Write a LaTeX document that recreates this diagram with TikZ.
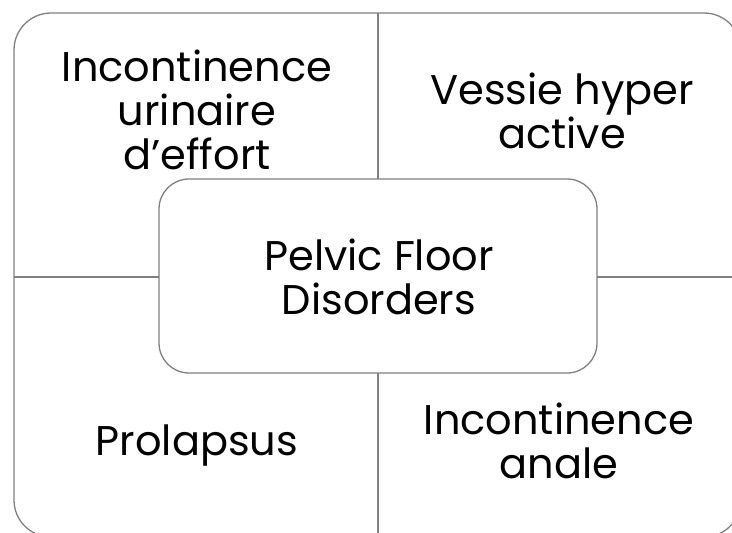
\documentclass[tikz,border=0pt]{standalone}
\usepackage{fontspec}
\setmainfont{Poppins}
\definecolor{edge}{RGB}{128,128,128}
\tikzset{
  frame/.style={draw=edge, line width=1.3pt},
  label/.style={align=center, anchor=base, inner sep=0pt, font=\fontsize{41.5}{44}\selectfont}
}
\begin{document}
\begin{tikzpicture}[x=1pt,y=-1pt]
\useasboundingbox (0,0) rectangle (732,533);
\clip (0,0) rectangle (732,533);
\draw[frame, rounded corners=37pt] (14,13) rectangle (741,537);
\coordinate (vt) at (378,13);
\coordinate (vb) at (378,537);
\coordinate (hl) at (14,277);
\coordinate (hr) at (741,277);
\draw[frame] (vt) -- (vb);
\draw[frame] (hl) -- (hr);
\node[frame, fill=white, rounded corners=30pt, minimum width=438pt, minimum height=194pt, inner sep=0pt] (center) at (378,276) {};
\node[label] (pfd) at (379,314) {Pelvic Floor\\Disorders};
\node[label] (iu) at (197,169) {Incontinence\\urinaire\\d’effort};
\node[label] (vha) at (562,148) {Vessie hyper\\active};
\node[label] (pro) at (197,455) {Prolapsus};
\node[label] (ia) at (559,478) {Incontinence\\anale};
\end{tikzpicture}
\end{document}
